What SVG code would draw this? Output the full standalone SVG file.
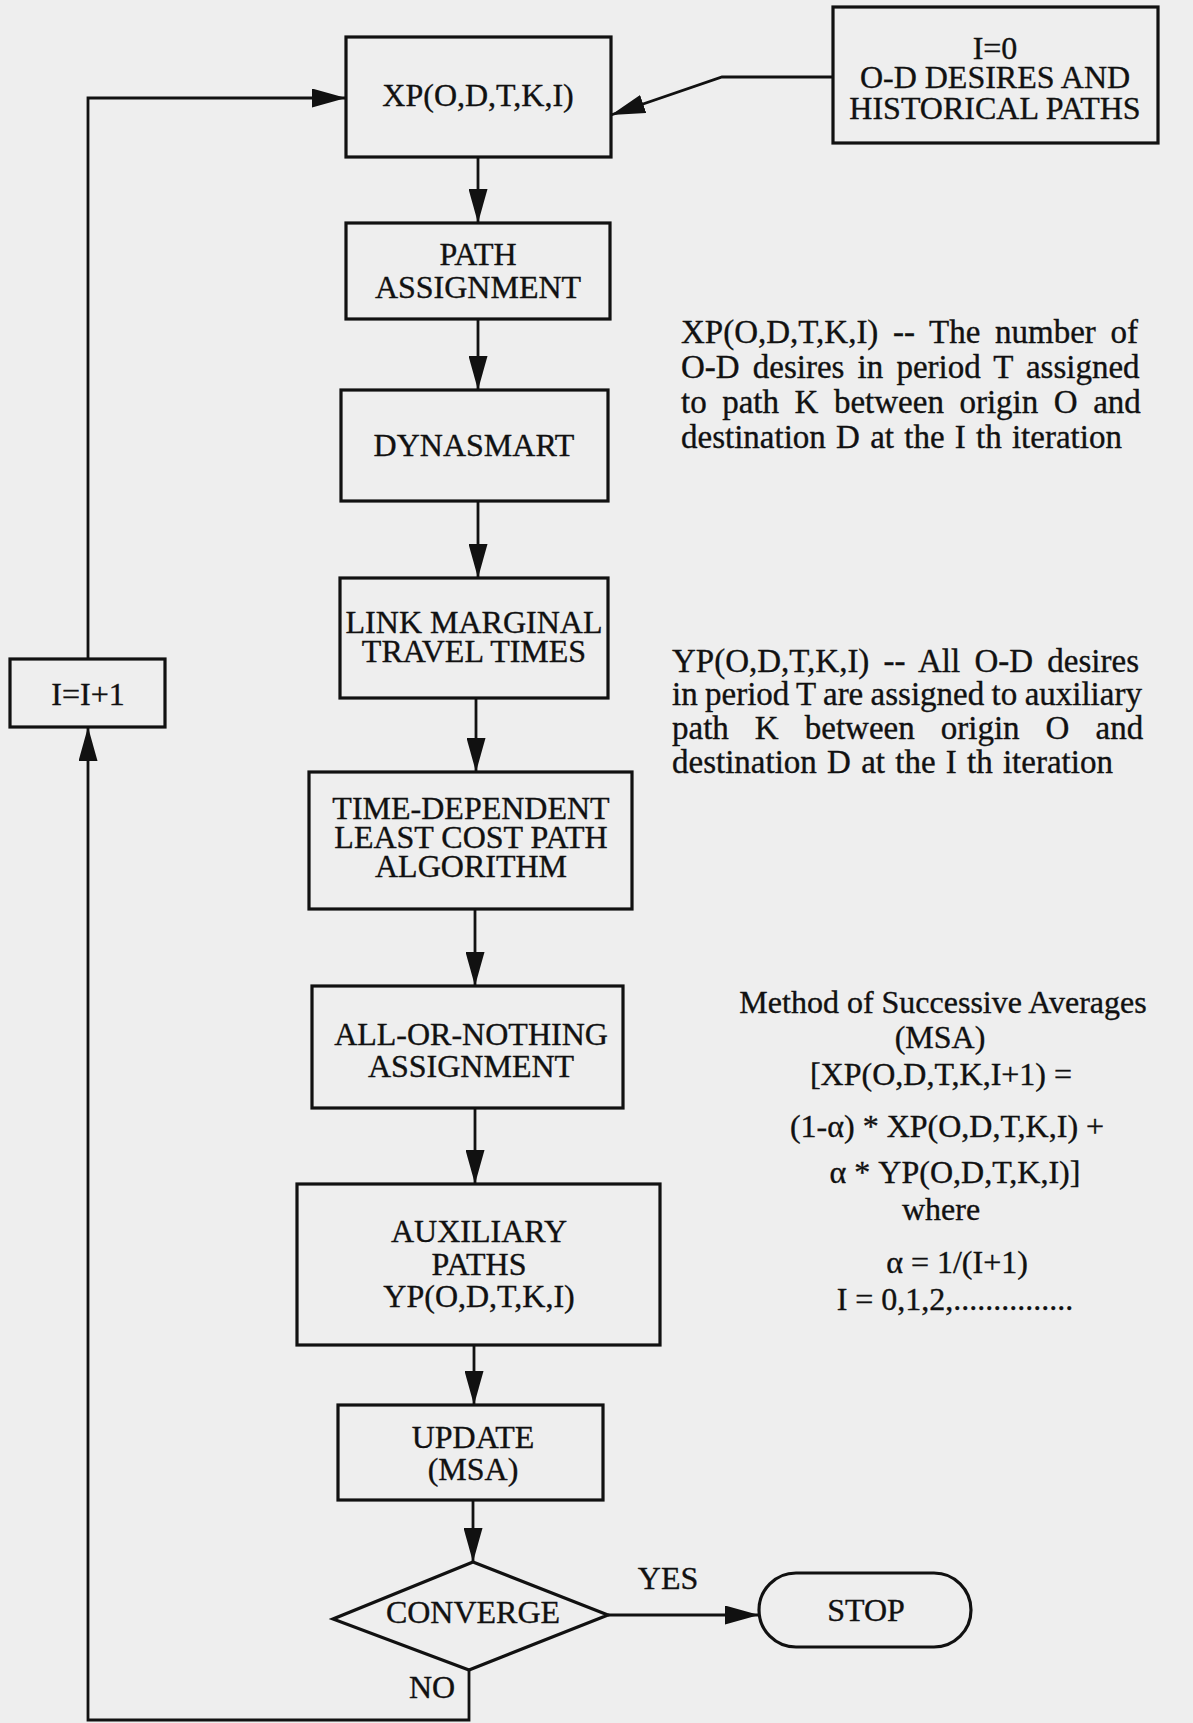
<svg xmlns="http://www.w3.org/2000/svg" width="1193" height="1723" viewBox="0 0 1193 1723">
<defs>
<style>
.bg{fill:#eeeeee}
.box{fill:none;stroke:#111;stroke-width:3.2}
.ln{fill:none;stroke:#111;stroke-width:2.8}
.t{font-family:"Liberation Serif","Times New Roman",serif;font-size:32px;fill:#111;stroke:#111;stroke-width:0.35;text-anchor:middle}
.s{font-family:"Liberation Serif","Times New Roman",serif;font-size:33px;fill:#111;stroke:#111;stroke-width:0.35}
</style>
<marker id="ah" viewBox="0 0 34 19" refX="34" refY="9.5" markerWidth="34" markerHeight="19" orient="auto" markerUnits="userSpaceOnUse">
<path d="M0,0 L34,9.5 L0,19 z" fill="#111"/>
</marker>
</defs>
<rect class="bg" x="0" y="0" width="1193" height="1723"/>

<g id="connectors">
<path class="ln" d="M478,157 V223" marker-end="url(#ah)"/>
<path class="ln" d="M478,319 V390" marker-end="url(#ah)"/>
<path class="ln" d="M478,501 V578" marker-end="url(#ah)"/>
<path class="ln" d="M476,698 V772" marker-end="url(#ah)"/>
<path class="ln" d="M475,909 V986" marker-end="url(#ah)"/>
<path class="ln" d="M475,1108 V1184" marker-end="url(#ah)"/>
<path class="ln" d="M474,1345 V1405" marker-end="url(#ah)"/>
<path class="ln" d="M473,1500 V1562" marker-end="url(#ah)"/>
<path class="ln" d="M608,1615 H759" marker-end="url(#ah)"/>
<path class="ln" d="M469,1670 V1720 H88 V727" marker-end="url(#ah)"/>
<path class="ln" d="M88,659 V98 H346" marker-end="url(#ah)"/>
<path class="ln" d="M833,77 H722 L611,115" marker-end="url(#ah)"/>
<text class="t" x="668" y="1589">YES</text>
<text class="t" x="432" y="1698">NO</text>
</g>

<g id="node-xp">
<rect class="box" x="346" y="37" width="265" height="120"/>
<text class="t" x="478" y="106">XP(O,D,T,K,I)</text>
</g>
<g id="node-init">
<rect class="box" x="833" y="7" width="325" height="136"/>
<text class="t" x="995" y="59">I=0</text>
<text class="t" x="995" y="88">O-D DESIRES AND</text>
<text class="t" x="995" y="119">HISTORICAL PATHS</text>
</g>
<g id="node-path">
<rect class="box" x="346" y="223" width="264" height="96"/>
<text class="t" x="478" y="265">PATH</text>
<text class="t" x="478" y="298">ASSIGNMENT</text>
</g>
<g id="node-dynasmart">
<rect class="box" x="341" y="390" width="267" height="111"/>
<text class="t" x="474" y="456">DYNASMART</text>
</g>
<g id="node-link">
<rect class="box" x="340" y="578" width="268" height="120"/>
<text class="t" x="474" y="633">LINK MARGINAL</text>
<text class="t" x="474" y="662">TRAVEL TIMES</text>
</g>
<g id="node-tdlcp">
<rect class="box" x="309" y="772" width="323" height="137"/>
<text class="t" x="471" y="819">TIME-DEPENDENT</text>
<text class="t" x="471" y="848">LEAST COST PATH</text>
<text class="t" x="471" y="877">ALGORITHM</text>
</g>
<g id="node-aon">
<rect class="box" x="312" y="986" width="311" height="122"/>
<text class="t" x="471" y="1045">ALL-OR-NOTHING</text>
<text class="t" x="471" y="1077">ASSIGNMENT</text>
</g>
<g id="node-aux">
<rect class="box" x="297" y="1184" width="363" height="161"/>
<text class="t" x="479" y="1242">AUXILIARY</text>
<text class="t" x="479" y="1275">PATHS</text>
<text class="t" x="479" y="1307">YP(O,D,T,K,I)</text>
</g>
<g id="node-update">
<rect class="box" x="338" y="1405" width="265" height="95"/>
<text class="t" x="473" y="1448">UPDATE</text>
<text class="t" x="473" y="1480">(MSA)</text>
</g>
<g id="node-converge">
<polygon class="box" points="473,1562 608,1615 469,1670 333,1619"/>
<text class="t" x="473" y="1623">CONVERGE</text>
</g>
<g id="node-stop">
<rect class="box" x="759" y="1573" width="212" height="74" rx="37" ry="37"/>
<text class="t" x="866" y="1621">STOP</text>
</g>
<g id="node-incr">
<rect class="box" x="10" y="659" width="155" height="68"/>
<text class="t" x="88" y="705">I=I+1</text>
</g>

<g id="note-xp">
<text class="s" x="681" y="343" style="word-spacing:6.4px">XP(O,D,T,K,I) -- The number of</text>
<text class="s" x="681" y="378" style="word-spacing:4.9px">O-D desires in period T assigned</text>
<text class="s" x="681" y="413" style="word-spacing:7.3px">to path K between origin O and</text>
<text class="s" x="681" y="448" style="word-spacing:2px">destination D at the I th iteration</text>
</g>
<g id="note-yp">
<text class="s" x="672" y="672" style="word-spacing:6px">YP(O,D,T,K,I) -- All O-D desires</text>
<text class="s" x="672" y="705" style="word-spacing:-0.9px">in period T are assigned to auxiliary</text>
<text class="s" x="672" y="739" style="word-spacing:17.8px">path K between origin O and</text>
<text class="s" x="672" y="773" style="word-spacing:2px">destination D at the I th iteration</text>
</g>
<g id="note-msa">
<text class="t" x="943" y="1013">Method of Successive Averages</text>
<text class="t" x="940" y="1048">(MSA)</text>
<text class="t" x="941" y="1085">[XP(O,D,T,K,I+1) =</text>
<text class="t" x="947" y="1137">(1-α) * XP(O,D,T,K,I) +</text>
<text class="t" x="955" y="1183">α * YP(O,D,T,K,I)]</text>
<text class="t" x="941" y="1220">where</text>
<text class="t" x="957" y="1273">α = 1/(I+1)</text>
<text class="t" x="955" y="1310">I = 0,1,2,...............</text>
</g>
</svg>
